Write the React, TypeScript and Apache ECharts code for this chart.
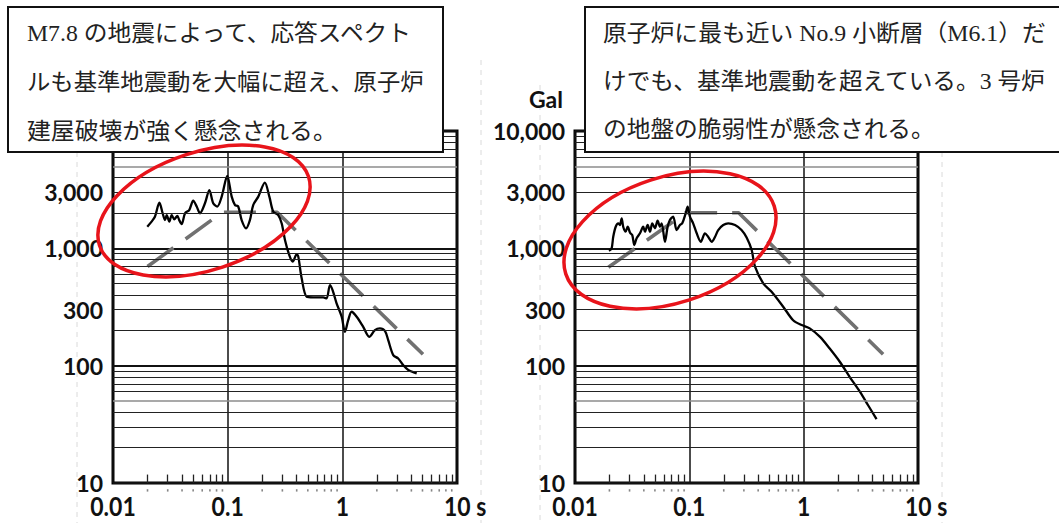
import React, { useEffect, useRef } from "react";
import * as echarts from "echarts";

// 観測記録の応答スペクトル（周期 s, 加速度 Gal）
const leftObserved: [number, number][] = [
  [0.0199, 1530], [0.0217, 1690], [0.0232, 1860], [0.0254, 2450], [0.0271, 1990],
  [0.0284, 1740], [0.0294, 1920], [0.031, 1690], [0.0325, 1920], [0.0342, 1770],
  [0.0364, 1890], [0.0378, 1740], [0.0397, 1610], [0.0425, 1990], [0.0462, 2120],
  [0.0501, 2550], [0.0537, 2270], [0.0573, 1990], [0.0634, 2420], [0.0692, 3140],
  [0.0748, 2420], [0.0811, 2270], [0.0887, 2760], [0.0992, 4140], [0.1084, 2760],
  [0.1159, 2340], [0.1236, 2270], [0.1324, 1740], [0.1446, 1480], [0.1563, 1740],
  [0.167, 2340], [0.185, 2760], [0.211, 3630], [0.231, 2760], [0.25, 2050],
  [0.276, 1920], [0.296, 1630], [0.316, 1180], [0.344, 880], [0.369, 770],
  [0.4, 890], [0.413, 850], [0.442, 555], [0.489, 386], [0.557, 382],
  [0.681, 382], [0.729, 374], [0.78, 486], [0.822, 441], [0.891, 340],
  [0.987, 261], [1.054, 194], [1.125, 244], [1.205, 288], [1.333, 261],
  [1.521, 214], [1.717, 176], [1.924, 201], [2.128, 208], [2.351, 198],
  [2.513, 165], [2.78, 123], [3.07, 115], [3.4, 101], [3.76, 92], [4.45, 86],
];

const rightObserved: [number, number][] = [
  [0.0198, 954], [0.0209, 1000], [0.0216, 1256], [0.0227, 1528], [0.0239, 1634],
  [0.0247, 1580], [0.0256, 1803], [0.0264, 1528], [0.0277, 1386], [0.0289, 1528],
  [0.0303, 1358], [0.0317, 1298], [0.033, 1067], [0.0346, 1217], [0.037, 1343],
  [0.0395, 1528], [0.0409, 1386], [0.0432, 1580], [0.0453, 1386], [0.0474, 1634],
  [0.05, 1482], [0.0528, 1719], [0.0553, 1528], [0.0573, 1634], [0.0612, 1138],
  [0.0646, 1528], [0.0676, 1742], [0.0722, 1862], [0.0774, 1432], [0.0828, 1580],
  [0.0867, 1634], [0.0929, 1990], [0.0966, 2265], [0.1012, 1862], [0.108, 1634],
  [0.116, 1343], [0.126, 1138], [0.137, 1343], [0.146, 1256], [0.157, 1138],
  [0.168, 1256], [0.179, 1432], [0.198, 1580], [0.219, 1634], [0.251, 1580],
  [0.286, 1432], [0.317, 1236], [0.351, 967], [0.374, 706], [0.443, 503],
  [0.524, 426], [0.662, 318], [0.809, 244], [0.96, 222], [1.13, 208],
  [1.39, 176], [1.69, 140], [2.07, 108], [2.53, 80], [3.1, 60], [3.66, 46], [4.34, 35],
];

// 基準地震動（破線）
const leftStandard: [number, number][] = [[0.02, 700], [0.09, 2030], [0.27, 2030], [5.05, 125]];
const rightStandard: [number, number][] = [[0.0196, 690], [0.093, 2010], [0.27, 2010], [4.95, 125]];

// 軸目盛
const yTickValues = [10, 100, 300, 1000, 3000, 10000];
const yTickLabels = ["10", "100", "300", "1,000", "3,000", "10,000"];
const xTickValues = [0.01, 0.1, 1, 10];
const xTickLabels = ["0.01", "0.1", "1", "10 s"];
const yUnit = "Gal";

// 補助目盛線
const minorGal = [
  20, 30, 40, 50, 60, 70, 80, 90,
  200, 300, 400, 500, 600, 700, 800, 900,
  2000, 3000, 4000, 5000, 6000, 7000, 8000, 9000,
];
const grayGal = [50, 5000];
const minorPeriods = [
  0.02, 0.03, 0.04, 0.05, 0.06, 0.07, 0.08, 0.09,
  0.2, 0.3, 0.4, 0.5, 0.6, 0.7, 0.8, 0.9,
  2, 3, 4, 5, 6, 7, 8, 9,
];

// 注記
const leftNote = [
  "M7.8 の地震によって、応答スペクト",
  "ルも基準地震動を大幅に超え、原子炉",
  "建屋破壊が強く懸念される。",
];
const rightNote = [
  "原子炉に最も近い No.9 小断層（M6.1）だ",
  "けでも、基準地震動を超えている。3 号炉",
  "の地盤の脆弱性が懸念される。",
];

const GRIDS = [
  { left: 113, top: 131, width: 344, height: 352 },
  { left: 575, top: 131, width: 343, height: 352 },
];

const LABEL_FONT = "Lato, 'Open Sans', sans-serif";
const NOTE_FONT = "23px 'Liberation Serif', 'Noto Sans CJK JP', serif";

function measureText(text: string, font: string): number {
  const ctx = document.createElement("canvas").getContext("2d");
  if (!ctx) return 0;
  ctx.font = font;
  return ctx.measureText(text).width;
}

function buildOption() {
  const observed = [leftObserved, rightObserved];
  const standard = [leftStandard, rightStandard];
  const series: any[] = [];
  [0, 1].forEach((i) => {
    series.push({
      type: "line",
      xAxisIndex: i,
      yAxisIndex: i,
      data: [],
      symbol: "none",
      silent: true,
      markLine: {
        silent: true,
        symbol: ["none", "none"],
        label: { show: false },
        emphasis: { disabled: true },
        lineStyle: { color: "#222", width: 1.2, type: "solid" },
        data: [
          ...minorGal.map((v) => ({
            yAxis: v,
            lineStyle: grayGal.includes(v)
              ? { color: "#8c8c8c", width: 1.5, type: "solid" }
              : { color: "#222", width: 1.2, type: "solid" },
          })),
          ...minorPeriods.map((t) => [
            { coord: [t, 10], lineStyle: { color: "#222", width: 1.3, type: "solid" } },
            { coord: [t, 11.8] },
          ]),
        ],
      },
    });
    series.push({
      type: "scatter",
      xAxisIndex: i,
      yAxisIndex: i,
      data: minorPeriods.map((t) => [t, 8.65]),
      symbol: "rect",
      symbolSize: [1.6, 2.4],
      itemStyle: { color: "#666" },
      clip: false,
      silent: true,
    });
    series.push({
      type: "line",
      xAxisIndex: i,
      yAxisIndex: i,
      data: standard[i],
      symbol: "none",
      silent: true,
      lineStyle: { color: "#717171", width: 3.6, type: [32, 15], cap: "butt" },
    });
    series.push({
      type: "line",
      xAxisIndex: i,
      yAxisIndex: i,
      data: observed[i],
      symbol: "none",
      smooth: 0.3,
      silent: true,
      lineStyle: { color: "#000", width: 2.3, join: "round" },
    });
  });

  return {
    animation: false,
    backgroundColor: "#fff",
    grid: GRIDS.map((g) => ({
      ...g,
      show: true,
      borderColor: "#000",
      borderWidth: 3,
      backgroundColor: "transparent",
    })),
    xAxis: [0, 1].map((i) => ({
      type: "log",
      logBase: 10,
      gridIndex: i,
      min: 0.01,
      max: 10,
      axisLine: { show: false },
      axisTick: { show: false },
      axisLabel: { show: false },
      splitLine: { show: true, lineStyle: { color: "#111", width: 1.5 } },
    })),
    yAxis: [0, 1].map((i) => ({
      type: "log",
      logBase: 10,
      gridIndex: i,
      min: 10,
      max: 10000,
      axisLine: { show: false },
      axisTick: { show: false },
      axisLabel: { show: false },
      splitLine: { show: true, lineStyle: { color: "#111", width: 2 } },
    })),
    series,
  };
}

function textStyle(text: string, font: string, align: string, vAlign: string, fill: string) {
  return {
    text,
    font,
    fill,
    align,
    verticalAlign: vAlign,
    textAlign: align,
    textVerticalAlign: vAlign,
  };
}

function buildGraphic(chart: echarts.ECharts) {
  const els: any[] = [];

  // 背景の薄い破線
  const faint = [
    { x: 77, y1: 152, y2: 523 },
    { x: 481, y1: 60, y2: 523 },
    { x: 540, y1: 85, y2: 523 },
    { x: 942, y1: 152, y2: 523 },
  ];
  faint.forEach((f) =>
    els.push({
      type: "line",
      z: 0,
      silent: true,
      shape: { x1: f.x, y1: f.y1, x2: f.x, y2: f.y2 },
      style: { stroke: "#dadada", lineWidth: 1, lineDash: [5, 5] },
    })
  );

  // 軸ラベル
  [0, 1].forEach((i) => {
    yTickValues.forEach((v, k) => {
      if (i === 0 && v === 10000) return;
      const [px, py] = chart.convertToPixel({ gridIndex: i }, [0.01, v]) as number[];
      els.push({
        type: "text",
        z: 10,
        x: px - 10,
        y: py,
        style: textStyle(yTickLabels[k], `bold 23px ${LABEL_FONT}`, "right", "middle", "#111"),
      });
    });
    xTickValues.forEach((t, k) => {
      const [px, py] = chart.convertToPixel({ gridIndex: i }, [t, 10]) as number[];
      const last = k === xTickValues.length - 1;
      els.push({
        type: "text",
        z: 10,
        x: last ? px - 13 : px,
        y: py + 23,
        scaleY: 1.15,
        style: textStyle(xTickLabels[k], `bold 23px ${LABEL_FONT}`, last ? "left" : "center", "middle", "#111"),
      });
    });
  });
  {
    const [px, py] = chart.convertToPixel({ gridIndex: 1 }, [0.01, 10000]) as number[];
    els.push({
      type: "text",
      z: 10,
      x: px - 12,
      y: py - 32,
      style: textStyle(yUnit, `bold 23px ${LABEL_FONT}`, "right", "middle", "#111"),
    });
  }

  // 注記の枠
  els.push({
    type: "rect",
    z: 20,
    shape: { x: 8, y: 7, width: 435, height: 145 },
    style: { fill: "#fff", stroke: "#111", lineWidth: 2 },
  });
  els.push({
    type: "rect",
    z: 20,
    shape: { x: 585, y: 7, width: 490, height: 145 },
    style: { fill: "#fff", stroke: "#111", lineWidth: 2 },
  });

  const notes = [
    { lines: leftNote, x: 27, ys: [33, 82, 131], widths: [388, 397, 310] },
    { lines: rightNote, x: 603, ys: [33, 81, 129], widths: [443, 443, 332] },
  ];
  notes.forEach((n) =>
    n.lines.forEach((line, k) => {
      const w = measureText(line, NOTE_FONT);
      const sx = w > 0 ? n.widths[k] / w : 1;
      els.push({
        type: "text",
        z: 21,
        x: n.x,
        y: n.ys[k],
        scaleX: sx,
        style: textStyle(line, NOTE_FONT, "left", "middle", "#222"),
      });
    })
  );

  // 赤丸
  els.push({
    type: "ellipse",
    z: 30,
    x: 204,
    y: 211,
    rotation: 0.3185,
    shape: { cx: 0, cy: 0, rx: 110, ry: 59 },
    style: { fill: "none", stroke: "#e8141b", lineWidth: 3.5 },
  });
  els.push({
    type: "ellipse",
    z: 30,
    x: 670,
    y: 240,
    rotation: 0.314,
    shape: { cx: 0, cy: 0, rx: 109.6, ry: 63 },
    style: { fill: "none", stroke: "#e8141b", lineWidth: 3.5 },
  });

  return els;
}

export default function App() {
  const ref = useRef<HTMLDivElement>(null);
  useEffect(() => {
    const el = ref.current;
    if (!el) return;
    const chart = echarts.init(el, null, { renderer: "svg" });
    chart.setOption(buildOption());
    chart.setOption({ graphic: buildGraphic(chart) });
    return () => chart.dispose();
  }, []);
  return (
    <div
      ref={ref}
      style={{ position: "fixed", left: 0, top: 0, width: 1059, height: 523, background: "#fff" }}
    />
  );
}
